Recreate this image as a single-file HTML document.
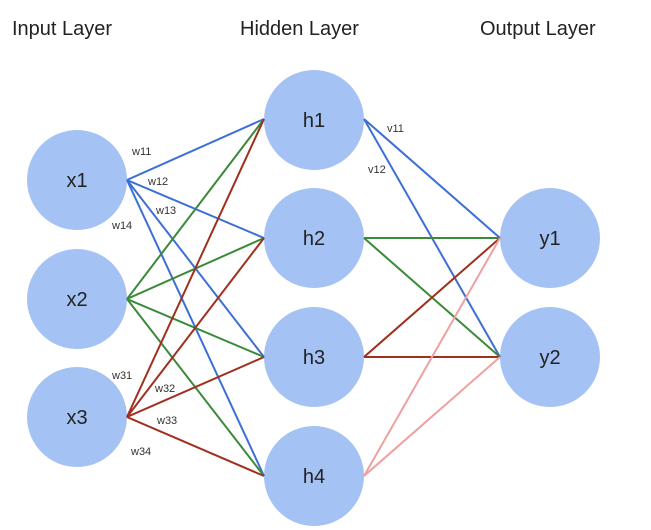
<!DOCTYPE html>
<html><head><style>body{margin:0;background:#fff}svg{display:block}text{font-family:"Liberation Sans",Arial,sans-serif}</style></head><body>
<svg width="651" height="530" viewBox="0 0 651 530" xmlns="http://www.w3.org/2000/svg">
<g font-size="20" fill="#222">
<text x="12" y="35">Input Layer</text>
<text x="240" y="35">Hidden Layer</text>
<text x="480" y="35">Output Layer</text>
</g>
<g fill="#a4c2f4">
<ellipse cx="77" cy="180" rx="50" ry="50"/>
<ellipse cx="77" cy="299" rx="50" ry="50"/>
<ellipse cx="77" cy="417" rx="50" ry="50"/>
<ellipse cx="314" cy="120" rx="50" ry="50"/>
<ellipse cx="314" cy="238" rx="50" ry="50"/>
<ellipse cx="314" cy="357" rx="50" ry="50"/>
<ellipse cx="314" cy="476" rx="50" ry="50"/>
<ellipse cx="550" cy="238" rx="50" ry="50"/>
<ellipse cx="550" cy="357" rx="50" ry="50"/>
</g>
<g stroke-width="2" fill="none">
<g stroke="#3c6fd6">
<line x1="127" y1="180" x2="264" y2="119"/><line x1="127" y1="180" x2="264" y2="238"/>
<line x1="127" y1="180" x2="264" y2="357"/><line x1="127" y1="180" x2="264" y2="476"/>
<line x1="364" y1="119" x2="500" y2="238"/><line x1="364" y1="119" x2="500" y2="357"/>
</g>
<g stroke="#3a8a3a">
<line x1="127" y1="299" x2="264" y2="119"/><line x1="127" y1="299" x2="264" y2="238"/>
<line x1="127" y1="299" x2="264" y2="357"/><line x1="127" y1="299" x2="264" y2="476"/>
<line x1="364" y1="238" x2="500" y2="238"/><line x1="364" y1="238" x2="500" y2="357"/>
</g>
<g stroke="#a0301e">
<line x1="127" y1="417" x2="264" y2="119"/><line x1="127" y1="417" x2="264" y2="238"/>
<line x1="127" y1="417" x2="264" y2="357"/><line x1="127" y1="417" x2="264" y2="476"/>
<line x1="364" y1="357" x2="500" y2="238"/><line x1="364" y1="357" x2="500" y2="357"/>
</g>
<g stroke="#f0a0a0">
<line x1="364" y1="476" x2="500" y2="238"/><line x1="364" y1="476" x2="500" y2="357"/>
</g>
</g>
<g font-size="20" fill="#222" text-anchor="middle">
<text x="77" y="187">x1</text><text x="77" y="306">x2</text><text x="77" y="424">x3</text>
<text x="314" y="127">h1</text><text x="314" y="245">h2</text><text x="314" y="364">h3</text><text x="314" y="483">h4</text>
<text x="550" y="245">y1</text><text x="550" y="364">y2</text>
</g>
<g font-size="11" fill="#333">
<text x="132" y="155">w11</text><text x="148" y="185">w12</text><text x="156" y="214">w13</text><text x="112" y="229">w14</text>
<text x="387" y="132">v11</text><text x="368" y="173">v12</text>
<text x="112" y="379">w31</text><text x="155" y="392">w32</text><text x="157" y="424">w33</text><text x="131" y="455">w34</text>
</g>
</svg>
</body></html>
